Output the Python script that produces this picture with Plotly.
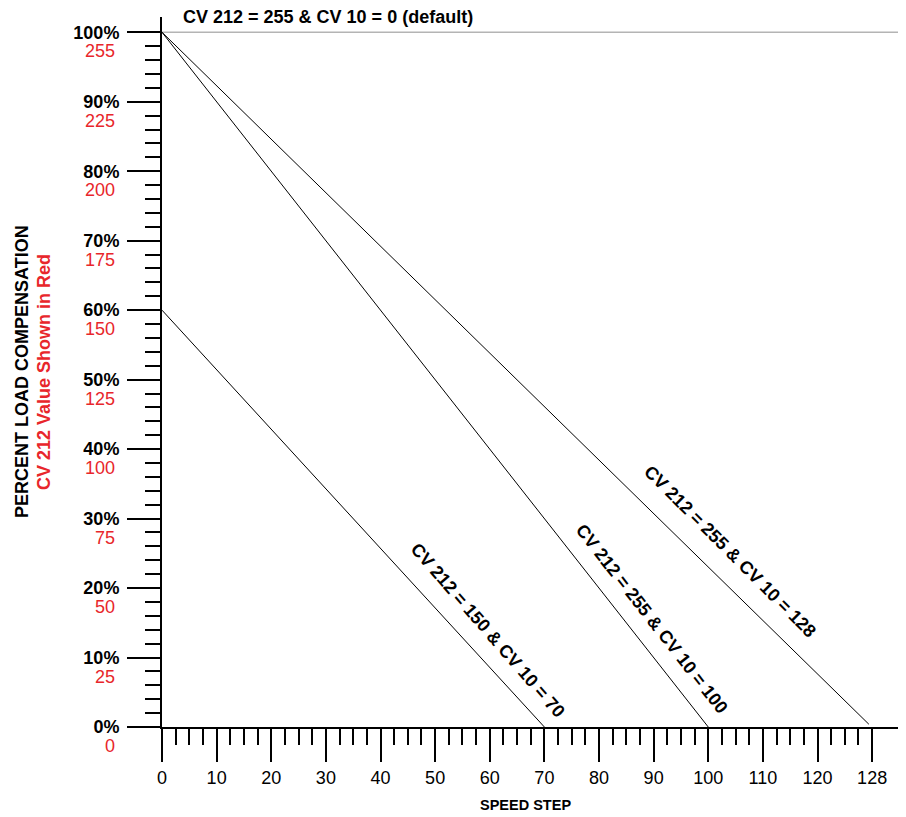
import plotly.graph_objects as go

# ---- data ----
curve_names = ["CV 212 = 150 & CV 10 = 70", "CV 212 = 255 & CV 10 = 100", "CV 212 = 255 & CV 10 = 128"]
start_speed = [0, 0, 0]
start_load = [60, 100, 100]
end_speed = [70, 100, 129.4]
end_load = [0, 0, 0.4]
label_speed = [59.6, 89.7, 103.9]
label_load = [14.0, 15.6, 25.3]
label_angle = [49, 52, 45]

x_tick_vals = [0, 10, 20, 30, 40, 50, 60, 70, 80, 90, 100, 110, 120, 130]
x_tick_text = ["0", "10", "20", "30", "40", "50", "60", "70", "80", "90", "100", "110", "120", "128"]
x_minor_vals = [i * 2.5 for i in range(1, 52) if i % 4 != 0]

y_tick_vals = [0, 10, 20, 30, 40, 50, 60, 70, 80, 90, 100]
y_pct_text = ["0%", "10%", "20%", "30%", "40%", "50%", "60%", "70%", "80%", "90%", "100%"]
y_cv_text = ["0", "25", "50", "75", "100", "125", "150", "175", "200", "225", "255"]
y_minor_vals = [v for v in range(2, 100, 2) if v % 10 != 0]

default_load = 100
title_text = "CV 212 = 255 & CV 10 = 0 (default)"

FONT = "Liberation Sans, Arial, Helvetica, sans-serif"
RED = "#e8262b"
FS = 18

fig = go.Figure()
for i in range(len(curve_names)):
    fig.add_trace(go.Scatter(
        x=[start_speed[i], end_speed[i]], y=[start_load[i], end_load[i]],
        mode="lines", line=dict(color="black", width=1), name=curve_names[i],
        showlegend=False, hoverinfo="skip", cliponaxis=False))

annotations = []
for i in range(len(curve_names)):
    annotations.append(dict(x=label_speed[i], y=label_load[i], xref="x", yref="y",
                            text="<b>" + curve_names[i] + "</b>", textangle=label_angle[i],
                            showarrow=False, font=dict(size=FS, color="black", family=FONT)))
for v, t in zip(y_tick_vals, y_cv_text):
    annotations.append(dict(x=0, y=v, xref="x", yref="y", text=t, showarrow=False,
                            xanchor="right", yanchor="middle", xshift=-45, yshift=-19,
                            font=dict(size=FS, color=RED, family=FONT)))
annotations.append(dict(x=0, y=1, xref="paper", yref="paper", xshift=19, text="<b>" + title_text + "</b>",
                        showarrow=False, xanchor="left", yanchor="middle",
                        font=dict(size=FS, color="black", family=FONT)))
annotations.append(dict(x=0, y=0.5, xref="paper", yref="paper", xshift=-140, xanchor="center",
                        text="<b>PERCENT LOAD COMPENSATION</b>", textangle=-90, showarrow=False,
                        font=dict(size=FS, color="black", family=FONT)))
annotations.append(dict(x=0, y=0.5, xref="paper", yref="paper", xshift=-118, xanchor="center",
                        text="<b>CV 212 Value Shown in Red</b>", textangle=-90, showarrow=False,
                        font=dict(size=FS, color=RED, family=FONT)))
annotations.append(dict(x=0.488, y=0, xref="paper", yref="paper", yshift=-78,
                        text="<b>SPEED STEP</b>", showarrow=False, yanchor="middle",
                        font=dict(size=14.5, color="black", family=FONT)))

# page body has an 8px margin, so the figure is sized/offset to compensate
fig.update_layout(
    width=898, height=809,
    margin=dict(l=154, r=0, t=9, b=90, autoexpand=False),
    paper_bgcolor="white", plot_bgcolor="white",
    annotations=annotations,
    shapes=[dict(type="line", xref="paper", x0=0, x1=1, yref="y", y0=default_load, y1=default_load,
                 line=dict(color="#b4b4b4", width=1.5), layer="below")],
    xaxis=dict(range=[0, 136.2], automargin=False, showgrid=False, zeroline=False, showline=True,
               linecolor="black", linewidth=2, ticks="outside", ticklen=33, tickwidth=2, tickcolor="black",
               tickmode="array", tickvals=x_tick_vals, ticktext=x_tick_text,
               tickfont=dict(size=FS, color="black", family=FONT),
               minor=dict(tickmode="array", tickvals=x_minor_vals, ticks="outside", ticklen=16,
                          tickwidth=2, tickcolor="black", showgrid=False)),
    yaxis=dict(range=[0, 102.2], automargin=False, showgrid=False, zeroline=False, showline=True,
               linecolor="black", linewidth=2, ticks="outside", ticklen=33, tickwidth=2, tickcolor="black",
               tickmode="array", tickvals=y_tick_vals, ticktext=["<b>" + t + "</b>" for t in y_pct_text],
               tickfont=dict(size=FS, color="black", family=FONT), ticklabelstandoff=4,
               minor=dict(tickmode="array", tickvals=y_minor_vals, ticks="outside", ticklen=15,
                          tickwidth=2, tickcolor="black", showgrid=False)),
)

fig.write_html("out.html")
